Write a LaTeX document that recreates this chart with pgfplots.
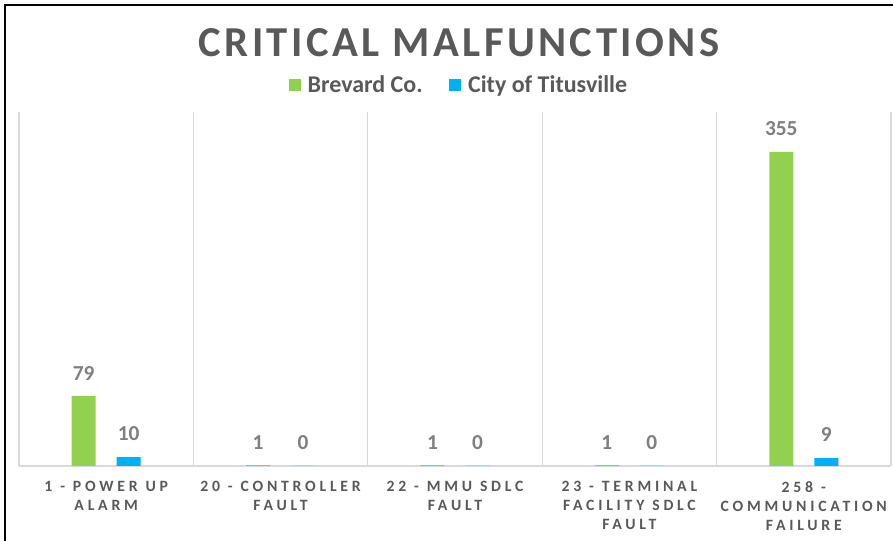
\documentclass[border=0pt]{standalone}
\usepackage{fontspec}
\setmainfont{Carlito}
\newfontfamily\tickfont[LetterSpace=24]{Carlito}
\newfontfamily\titlefont[LetterSpace=8]{Carlito}
\newcommand{\ws}{\hspace{0.5em}}
\usepackage{pgfplots}
\pgfplotsset{compat=1.18}
\definecolor{brev}{HTML}{92D050}
\definecolor{titu}{HTML}{00B0F0}
\definecolor{txt}{HTML}{595959}
\definecolor{lbl}{HTML}{7F7F7F}
\definecolor{grd}{HTML}{D9D9D9}

\begin{document}
\begin{tikzpicture}[x=0.75pt,y=0.75pt]
\path[use as bounding box] (0,0) rectangle (893,541);
\draw[line width=2pt] (5,0) -- (5,536) -- (893,536);
\node[font=\titlefont\bfseries\fontsize{32}{36}\selectfont, text=txt] at (459,498) {CRITICAL MALFUNCTIONS};
\begin{axis}[
  at={(14.25pt,56.25pt)}, anchor=south west,
  scale only axis, width=654pt, height=265.5pt,
  ybar=15.75pt, bar width=18pt,
  ymin=0, ymax=400, xmin=-0.5, xmax=4.5,
  axis x line=bottom, axis y line=none,
  x axis line style={grd, line width=1.5pt, -},
  xtick={0,1,2,3,4},
  xticklabels={1\ws-\ws POWER\ws UP\\ALARM, 20\ws-\ws CONTROLLER\\FAULT, 22\ws-\ws MMU\ws SDLC\\FAULT, 23\ws-\ws TERMINAL\\FACILITY\ws SDLC\\FAULT, 258\ws-\\COMMUNICATION\\FAILURE},
  major tick length=0pt,
  minor xtick={-0.5,0.5,1.5,2.5,3.5,4.5},
  minor tick length=0pt,
  xminorgrids, minor grid style={grd, line width=1pt},
  ytick=\empty,
  xticklabel style={font=\tickfont\bfseries\fontsize{11.8}{14.25}\selectfont, text=txt, align=center, text width=130pt, anchor=north, yshift=-8pt},
  nodes near coords,
  /pgf/number format/assume math mode=true,
  every node near coord/.append style={font=\bfseries\fontsize{16}{18}\selectfont, text=lbl, yshift=8.5pt},
  legend columns=2,
  legend style={at={(0.505,1.077)}, anchor=center, draw=none, fill=none, font=\bfseries\fontsize{18}{20}\selectfont, text=txt, /tikz/every even column/.append style={column sep=18pt}},
  legend image code/.code={\fill[#1] (0pt,-4.5pt) rectangle (9pt,4.5pt); \path (0pt,0pt) -- (12pt,0pt);},
  clip=false,
]
\addplot[fill=brev, draw=none] coordinates {(0,79) (1,1) (2,1) (3,1) (4,355)};
\addlegendentry{Brevard Co.}
\addplot[fill=titu, draw=none] coordinates {(0,10) (1,0) (2,0) (3,0) (4,9)};
\addlegendentry{City of Titusville}
\end{axis}
\end{tikzpicture}
\end{document}
